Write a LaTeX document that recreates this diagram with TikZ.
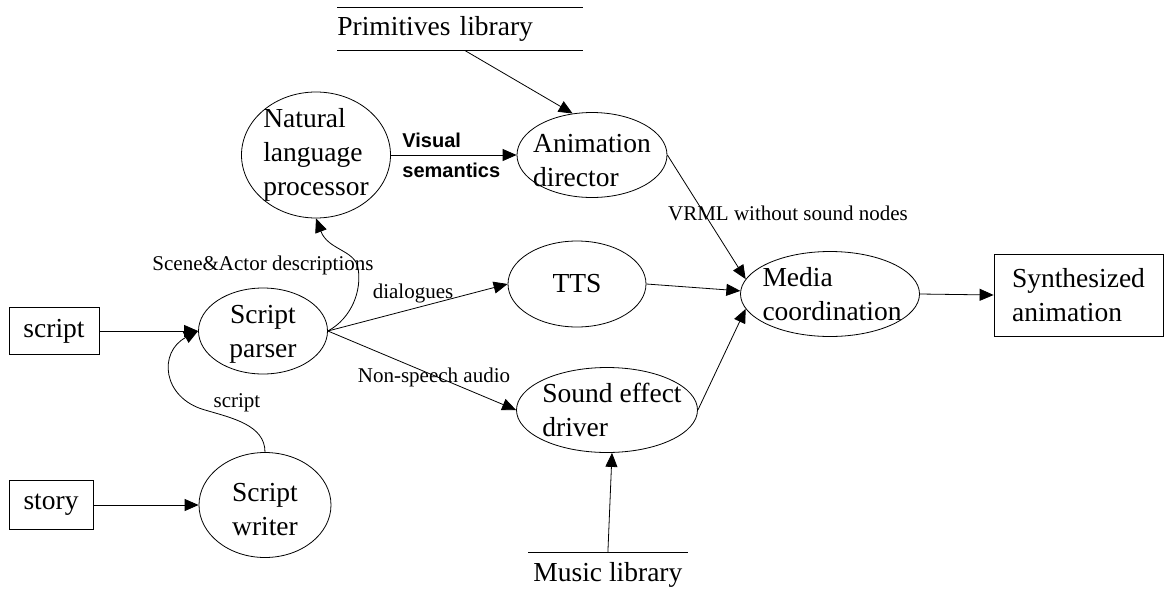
\documentclass[tikz,border=0pt]{standalone}
\usepackage{fontspec}
\setmainfont{Liberation Serif}
\newfontfamily\boldsans{Liberation Sans}
\usetikzlibrary{arrows.meta,shapes.geometric}
\begin{document}
\begin{tikzpicture}[x=1pt,y=-1pt,line width=0.8pt,
  big/.style={font=\fontsize{27.5}{34}\selectfont},
  proc/.style={draw,ellipse,inner sep=0pt},
  txt/.style={big,align=left,inner sep=0pt},
  boxnode/.style={draw,rectangle,inner sep=0pt,big,align=left},
  store/.style={rectangle,inner sep=0pt,big,align=left},
  lbl/.style={font=\fontsize{21}{25}\selectfont,inner sep=0pt},
  bsem/.style={font=\boldsans\bfseries\fontsize{20}{30}\selectfont,inner sep=0pt,align=left},
  flow/.style={-{Triangle[length=14pt,width=12pt]}},
]
\useasboundingbox (0,0) rectangle (1165,595);

% stores
\node[store,minimum width=245pt,minimum height=43pt,text width=245pt,anchor=north west] (prim) at (337,7) {Primitives library};
\draw (prim.north west) -- (prim.north east);
\draw (prim.south west) -- (prim.south east);
\node[store,minimum width=159pt,minimum height=46pt,anchor=north west] (music) at (528,552) {Music library};
\draw (music.north west) -- (music.north east);

% boxes
\node[boxnode,minimum width=90pt,minimum height=47pt] (script) at (54,331) {script};
\node[boxnode,minimum width=84pt,minimum height=49pt] (story) at (51,505) {story};
\node[boxnode,minimum width=169pt,minimum height=82pt] (synth) at (1078.5,295) {Synthesized\\animation};

% processes
\node[proc,minimum width=149pt,minimum height=126pt,label={[txt]center:Natural\\language\\processor}] (nlp) at (316,155) {};
\node[proc,minimum width=150pt,minimum height=85pt,label={[txt,yshift=-6pt]center:Animation\\director}] (ad) at (592,155) {};
\node[proc,minimum width=129pt,minimum height=86pt,label={[txt,align=center,yshift=-3pt]center:Script\\parser}] (parser) at (263,331) {};
\node[proc,minimum width=132pt,minimum height=105pt,label={[txt,align=center,yshift=-5pt]center:Script\\writer}] (writer) at (265,505) {};
\node[proc,minimum width=138pt,minimum height=86pt,label={[txt]center:TTS}] (tts) at (577,284) {};
\node[proc,minimum width=181pt,minimum height=85pt,label={[txt,xshift=5pt]center:Sound effect\\driver}] (sed) at (607,410) {};
\node[proc,minimum width=179pt,minimum height=85pt,label={[txt,xshift=2pt]center:Media\\coordination}] (media) at (830,294) {};

% connectors
\draw[flow] (script.east) -- (parser.west);
\draw[flow] (story.east) -- (writer.west);
\draw[flow] (writer.north) .. controls (265,425) and (232,418) .. (205,410)
   .. controls (162,398) and (158,352) .. (parser.west);
\node[lbl] (lscript) at (237,403) {script};
\draw[flow] (parser.east) .. controls (352,318) and (362,290) .. (358,268)
   .. controls (355,250) and (328,250) .. (nlp.south);
\node[lbl] (lscene) at (263,265) {Scene\&Actor descriptions};
\draw[flow] (parser.east) -- (tts.west);
\node[lbl] (ldial) at (413,293) {dialogues};
\draw[flow] (parser.east) -- (sed.west);
\node[lbl] (lnon) at (434,377) {Non-speech audio};
\draw[flow] (nlp.east) -- (ad.west);
\node[bsem,anchor=west] (lvis) at (402,155) {Visual\\semantics};
\draw[flow] ([xshift=5.5pt]prim.south) -- (ad.115);
\draw[flow] (ad.east) -- (media.170);
\node[lbl] (lvrml) at (788,213) {VRML without sound nodes};
\draw[flow] (tts.east) -- (media.178);
\draw[flow] (sed.east) -- (media.190);
\draw[flow] (music.north) -- ([xshift=5pt]sed.south);
\draw[flow] (media.east) -- (synth.west);
\end{tikzpicture}
\end{document}
